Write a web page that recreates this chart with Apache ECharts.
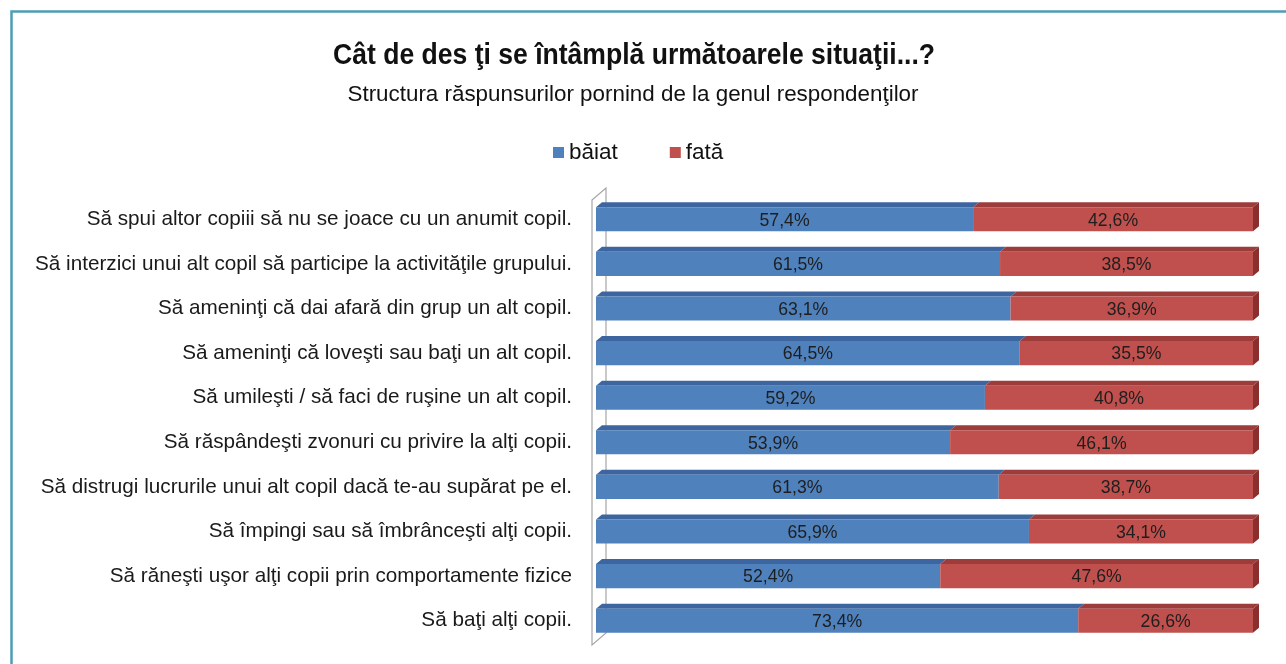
<!DOCTYPE html>
<html>
<head>
<meta charset="utf-8">
<script src="https://cdn.jsdelivr.net/npm/echarts@6/dist/echarts.min.js"></script>
<style>
  html, body { margin: 0; padding: 0; background: #fff; }
  #chart { width: 1286px; height: 664px; }
</style>
</head>
<body>
<div id="chart"></div>
<script>
const categories = [
  'Să spui altor copiii să nu se joace cu un anumit copil.',
  'Să interzici unui alt copil să participe la activităţile grupului.',
  'Să ameninţi că dai afară din grup un alt copil.',
  'Să ameninţi că loveşti sau baţi un alt copil.',
  'Să umileşti / să faci de ruşine un alt copil.',
  'Să răspândeşti zvonuri cu privire la alţi copii.',
  'Să distrugi lucrurile unui alt copil dacă te-au supărat pe el.',
  'Să împingi sau să îmbrânceşti alţi copii.',
  'Să răneşti uşor alţi copii prin comportamente fizice',
  'Să baţi alţi copii.'
]
const baiat = [57.4, 61.5, 63.1, 64.5, 59.2, 53.9, 61.3, 65.9, 52.4, 73.4]
const fata = [42.6, 38.5, 36.9, 35.5, 40.8, 46.1, 38.7, 34.1, 47.6, 26.6]
const seriesNames = ['băiat', 'fată']
const titleText = 'Cât de des ţi se întâmplă următoarele situaţii...?'
const subtitleText = 'Structura răspunsurilor pornind de la genul respondenţilor'

const GRID = { left: 596, right: 33, top: 197, bottom: 21 }
const DX = 6
const DY = 5
const SANS = 'Liberation Sans'

// scale text horizontally so it fills the width seen in the reference
const ctx = document.createElement('canvas').getContext('2d')
function fitScale (text, font, width) {
  ctx.font = font
  return width / ctx.measureText(text).width
}
const titleScale = fitScale(titleText, 'bold 29px "Liberation Sans"', 602)
const subScale = fitScale(subtitleText, '22px "Liberation Sans"', 571)

const chart = echarts.init(document.getElementById('chart'), null, { renderer: 'canvas' })

function fmt (v) {
  return v.toFixed(1).replace('.', ',') + '%'
}

function makeRender (front, top, side, last) {
  return function (params, api) {
    const start = api.value(0)
    const end = api.value(1)
    const cat = api.value(2)
    const p0 = api.coord([start, cat])
    const p1 = api.coord([end, cat])
    const h = api.size([0, 1])[1] * 0.54
    const y0 = p0[1] - h / 2
    const x0 = p0[0]
    const x1 = p1[0]
    const children = [
      {
        type: 'polygon',
        shape: { points: [[x0, y0], [x0 + DX, y0 - DY], [x1 + DX, y0 - DY], [x1, y0]] },
        style: { fill: top }
      },
      {
        type: 'rect',
        shape: { x: x0, y: y0, width: x1 - x0, height: h },
        style: { fill: front }
      }
    ]
    if (last) {
      children.push({
        type: 'polygon',
        shape: { points: [[x1, y0], [x1 + DX, y0 - DY], [x1 + DX, y0 + h - DY], [x1, y0 + h]] },
        style: { fill: side }
      })
    }
    children.push({
      type: 'text',
      x: (x0 + x1) / 2,
      y: p0[1] + 1,
      scaleX: 0.93,
      style: {
        text: fmt(end - start),
        x: 0,
        y: 0,
        align: 'center',
        verticalAlign: 'middle',
        fill: '#1e1e1e',
        fontFamily: SANS,
        fontSize: 19
      }
    })
    return { type: 'group', children: children }
  }
}

const baiatData = baiat.map((v, i) => [0, v, i])
const fataData = fata.map((v, i) => [baiat[i], baiat[i] + v, i])

const wallTop = GRID.top
const wallBottom = 664 - GRID.bottom

const option = {
  animation: false,
  legend: {
    top: 141,
    left: 553,
    padding: 0,
    itemGap: 52,
    itemWidth: 11,
    itemHeight: 11,
    icon: 'rect',
    textStyle: {
      fontFamily: SANS,
      fontSize: 22.5,
      color: '#111',
      padding: [0, 0, 0, 0]
    },
    data: seriesNames
  },
  grid: GRID,
  xAxis: {
    type: 'value',
    min: 0,
    max: 100,
    show: false
  },
  yAxis: {
    type: 'category',
    data: categories,
    inverse: true,
    axisLine: { show: false },
    axisTick: { show: false },
    splitLine: { show: false },
    axisLabel: {
      margin: 24,
      fontFamily: SANS,
      fontSize: 20.7,
      color: '#1a1a1a'
    }
  },
  graphic: [
    {
      type: 'text',
      x: 634,
      y: 56,
      scaleX: titleScale,
      style: {
        text: titleText,
        align: 'center',
        verticalAlign: 'middle',
        fontFamily: SANS,
        fontSize: 29,
        fontWeight: 'bold',
        fill: '#111'
      }
    },
    {
      type: 'text',
      x: 633,
      y: 95,
      scaleX: subScale,
      style: {
        text: subtitleText,
        align: 'center',
        verticalAlign: 'middle',
        fontFamily: SANS,
        fontSize: 22,
        fill: '#111'
      }
    },
    {
      type: 'rect',
      shape: { x: 11.5, y: 11.5, width: 1300, height: 700 },
      style: { fill: 'none', stroke: '#4d9db5', lineWidth: 2.5 },
      z: 100
    },
    {
      type: 'polygon',
      shape: {
        points: [
          [GRID.left - 4, wallTop + 3],
          [GRID.left + 10, wallTop - 9],
          [GRID.left + 10, wallBottom - 10],
          [GRID.left - 4, wallBottom + 2]
        ]
      },
      style: { fill: '#fff', stroke: '#a6a6a6', lineWidth: 1.2 },
      z: -1
    }
  ],
  series: [
    {
      name: seriesNames[0],
      type: 'custom',
      renderItem: makeRender('#4f81bd', '#3d66a0', '#3a5f93', false),
      itemStyle: { color: '#4f81bd' },
      encode: { x: [0, 1], y: 2 },
      data: baiatData
    },
    {
      name: seriesNames[1],
      type: 'custom',
      renderItem: makeRender('#c0504d', '#9c3d3b', '#8a2f2d', true),
      itemStyle: { color: '#c0504d' },
      encode: { x: [0, 1], y: 2 },
      data: fataData
    }
  ]
}

chart.setOption(option)
</script>
</body>
</html>
